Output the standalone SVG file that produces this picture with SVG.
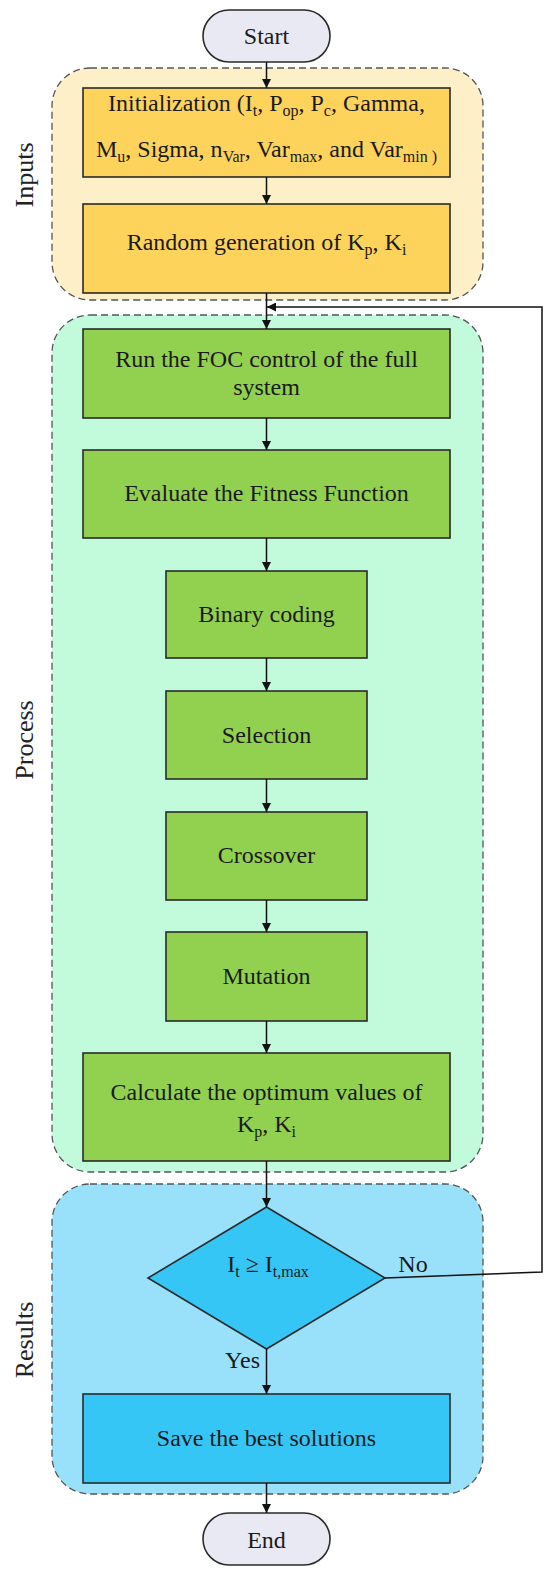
<svg xmlns="http://www.w3.org/2000/svg" width="550" height="1573" viewBox="0 0 550 1573">
<defs>
<marker id="ah" viewBox="0 0 10 10" refX="10" refY="5" markerWidth="9" markerHeight="9" markerUnits="userSpaceOnUse" orient="auto">
<path d="M0,0 L10,5 L0,10 z" fill="#111"/>
</marker>
<style>
text{font-family:"Liberation Serif","DejaVu Serif",serif;fill:#1a1a1a;}
.t{font-size:24px;text-anchor:middle;}
.lab{font-size:26px;text-anchor:middle;fill:#222;}
.s{font-size:16px;}
.cont{stroke:#555;stroke-width:1.3;stroke-dasharray:7 4;}
.box{stroke:#2a2a2a;stroke-width:1.6;}
.y{fill:#fdd35c;}
.g{fill:#92d050;}
.b{fill:#35c6f5;}
.pill{fill:#e9e9f3;stroke:#2a2a2a;stroke-width:1.6;}
.c{fill:none;stroke:#111;stroke-width:1.5;}
</style>
</defs>
<rect width="550" height="1573" fill="#fff"/>

<g id="inputs-group">
<rect class="cont" x="52" y="68" width="431" height="232" rx="38" fill="#fdf0c9"/>
<text class="lab" transform="translate(33,175) rotate(-90)">Inputs</text>
</g>
<g id="process-group">
<rect class="cont" x="52" y="315" width="431" height="857" rx="38" fill="#c2fbdc"/>
<text class="lab" transform="translate(33,740) rotate(-90)">Process</text>
</g>
<g id="results-group">
<rect class="cont" x="52" y="1184" width="431" height="310" rx="38" fill="#99e1fb"/>
<text class="lab" transform="translate(33,1340) rotate(-90)">Results</text>
</g>

<g id="start">
<rect class="pill" x="203" y="10" width="127" height="52" rx="26"/>
<text class="t" x="266.5" y="44">Start</text>
</g>

<g id="init">
<rect class="box y" x="83" y="88" width="367" height="89"/>
<text class="t" x="266.5" y="111">Initialization (I<tspan class="s" dy="5">t</tspan><tspan dy="-5">, P</tspan><tspan class="s" dy="5">op</tspan><tspan dy="-5">, P</tspan><tspan class="s" dy="5">c</tspan><tspan dy="-5">, Gamma,</tspan></text>
<text class="t" x="266.5" y="157">M<tspan class="s" dy="5">u</tspan><tspan dy="-5">, Sigma, n</tspan><tspan class="s" dy="5">Var</tspan><tspan dy="-5">, Var</tspan><tspan class="s" dy="5">max</tspan><tspan dy="-5">, and Var</tspan><tspan class="s" dy="5">min )</tspan></text>
</g>

<g id="random">
<rect class="box y" x="83" y="204" width="367" height="89"/>
<text class="t" x="266.5" y="250">Random generation of K<tspan class="s" dy="5">p</tspan><tspan dy="-5">, K</tspan><tspan class="s" dy="5">i</tspan></text>
</g>

<g id="run">
<rect class="box g" x="83" y="329" width="367" height="89"/>
<text class="t" x="266.5" y="367">Run the FOC control of the full</text>
<text class="t" x="266.5" y="395">system</text>
</g>

<g id="evaluate">
<rect class="box g" x="83" y="450" width="367" height="88"/>
<text class="t" x="266.5" y="501">Evaluate the Fitness Function</text>
</g>

<g id="binary">
<rect class="box g" x="166" y="571" width="201" height="87"/>
<text class="t" x="266.5" y="622">Binary coding</text>
</g>

<g id="selection">
<rect class="box g" x="166" y="691" width="201" height="88"/>
<text class="t" x="266.5" y="743">Selection</text>
</g>

<g id="crossover">
<rect class="box g" x="166" y="812" width="201" height="88"/>
<text class="t" x="266.5" y="863">Crossover</text>
</g>

<g id="mutation">
<rect class="box g" x="166" y="932" width="201" height="89"/>
<text class="t" x="266.5" y="984">Mutation</text>
</g>

<g id="calculate">
<rect class="box g" x="83" y="1053" width="367" height="108"/>
<text class="t" x="266.5" y="1100">Calculate the optimum values of</text>
<text class="t" x="266.5" y="1132">K<tspan class="s" dy="5">p</tspan><tspan dy="-5">, K</tspan><tspan class="s" dy="5">i</tspan></text>
</g>

<g id="decision">
<polygon class="box b" points="266.5,1207 385,1278 266.5,1349 148,1278"/>
<text class="t" x="268" y="1272">I<tspan class="s" dy="5">t</tspan><tspan dy="-5"> ≥ I</tspan><tspan class="s" dy="5">t,max</tspan></text>
</g>

<g id="save">
<rect class="box b" x="83" y="1394" width="367" height="89"/>
<text class="t" x="266.5" y="1446">Save the best solutions</text>
</g>

<g id="end">
<rect class="pill" x="203" y="1513" width="127" height="52" rx="26"/>
<text class="t" x="266.5" y="1548">End</text>
</g>

<g id="connectors">
<line class="c" x1="266.5" y1="62" x2="266.5" y2="88" marker-end="url(#ah)"/>
<line class="c" x1="266.5" y1="177" x2="266.5" y2="204" marker-end="url(#ah)"/>
<line class="c" x1="266.5" y1="293" x2="266.5" y2="329" marker-end="url(#ah)"/>
<line class="c" x1="266.5" y1="418" x2="266.5" y2="450" marker-end="url(#ah)"/>
<line class="c" x1="266.5" y1="538" x2="266.5" y2="571" marker-end="url(#ah)"/>
<line class="c" x1="266.5" y1="658" x2="266.5" y2="691" marker-end="url(#ah)"/>
<line class="c" x1="266.5" y1="779" x2="266.5" y2="812" marker-end="url(#ah)"/>
<line class="c" x1="266.5" y1="900" x2="266.5" y2="932" marker-end="url(#ah)"/>
<line class="c" x1="266.5" y1="1021" x2="266.5" y2="1053" marker-end="url(#ah)"/>
<line class="c" x1="266.5" y1="1161" x2="266.5" y2="1207" marker-end="url(#ah)"/>
<line class="c" x1="266.5" y1="1349" x2="266.5" y2="1394" marker-end="url(#ah)"/>
<line class="c" x1="266.5" y1="1483" x2="266.5" y2="1513" marker-end="url(#ah)"/>
<polyline class="c" points="385,1278 542,1272 542,307 267,307" marker-end="url(#ah)"/>
<text x="413" y="1272" style="font-size:24px;text-anchor:middle;">No</text>
<text x="260" y="1368" style="font-size:24px;text-anchor:end;">Yes</text>
</g>
</svg>
